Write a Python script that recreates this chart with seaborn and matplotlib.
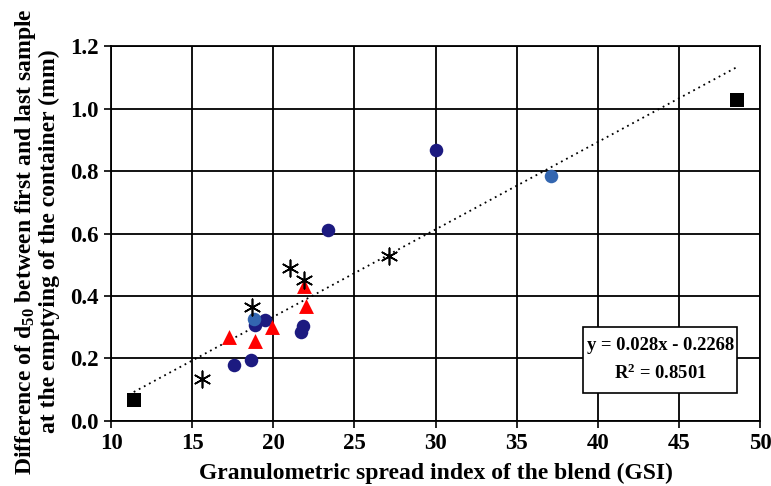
import matplotlib
matplotlib.use("Agg")
import matplotlib.pyplot as plt
from matplotlib.patches import Rectangle
import seaborn as sns
import pandas as pd
import numpy as np

# values
navy_x = [17.6, 18.6, 18.9, 19.5, 21.8, 21.7, 23.4, 30.0]
navy_y = [0.18, 0.195, 0.307, 0.323, 0.304, 0.286, 0.612, 0.868]
blue_x = [18.8, 37.1]
blue_y = [0.325, 0.784]
tri_x = [17.3, 18.9, 19.9, 21.9, 22.0]
tri_y = [0.27, 0.257, 0.302, 0.432, 0.368]
star_x = [15.6, 18.7, 21.0, 21.9, 27.1]
star_y = [0.133, 0.364, 0.49, 0.451, 0.527]
sq_x = [11.4, 48.6]
sq_y = [0.067, 1.027]

slope, intercept, r2 = 0.028, -0.2268, 0.8501

sns.set_theme(style="white")
plt.rcParams["font.family"] = ["Liberation Serif", "DejaVu Serif"]
plt.rcParams["font.weight"] = "bold"
plt.rcParams["text.color"] = "black"
plt.rcParams["axes.labelcolor"] = "black"
plt.rcParams["xtick.color"] = "black"
plt.rcParams["ytick.color"] = "black"
plt.rcParams["mathtext.fontset"] = "custom"
plt.rcParams["mathtext.rm"] = "Liberation Serif:bold"
plt.rcParams["mathtext.it"] = "Liberation Serif:bold"
plt.rcParams["mathtext.bf"] = "Liberation Serif:bold"

df = pd.concat([
    pd.DataFrame({"x": navy_x, "y": navy_y, "grp": "navy"}),
    pd.DataFrame({"x": blue_x, "y": blue_y, "grp": "blue"}),
    pd.DataFrame({"x": tri_x, "y": tri_y, "grp": "tri"}),
    pd.DataFrame({"x": star_x, "y": star_y, "grp": "star"}),
    pd.DataFrame({"x": sq_x, "y": sq_y, "grp": "sq"}),
], ignore_index=True)

f = plt.figure(figsize=(7.71, 4.86), dpi=100)
ax = f.add_axes([0.144, 0.134, 0.842, 0.771])

# trend line
xs = np.array([df["x"].min(), df["x"].max()])
ax.plot(xs, slope * xs + intercept, color="black", linestyle=(0, (1, 2.2)), lw=1.3, zorder=2)

styles = {
    "navy": dict(marker="o", color="#1c1a80", s=95),
    "blue": dict(marker="o", color="#3366b0", s=95),
    "tri": dict(marker="^", color="#ff0000", s=115),
    "sq": dict(marker="s", color="black", s=90),
}
for g, kw in styles.items():
    sns.scatterplot(data=df[df["grp"] == g], x="x", y="y", ax=ax, linewidth=0,
                    zorder=3, legend=False, **kw)
sns.scatterplot(data=df[df["grp"] == "star"], x="x", y="y", ax=ax, marker=(6, 2, 0),
                color="black", s=140, linewidth=1.2, zorder=3, legend=False)

ax.set_xlim(10, 50)
ax.set_ylim(0, 1.2)
ax.set_xticks(np.arange(10, 51, 5))
ax.set_yticks(np.arange(0, 1.21, 0.2))
ax.set_yticklabels([f"{v:.1f}" for v in np.arange(0, 1.21, 0.2)])
ax.grid(True, color="black", lw=1.3)
ax.set_axisbelow(True)
for s in ax.spines.values():
    s.set_color("black")
    s.set_linewidth(1.3)
ax.tick_params(axis="both", direction="out", length=5, width=1.2, color="black",
               labelcolor="black", labelsize=16.5, left=True, bottom=True, pad=4)
for lab in ax.get_xticklabels() + ax.get_yticklabels():
    lab.set_fontweight("bold")

ax.set_xlabel("Granulometric spread index of the blend (GSI)", fontsize=17,
              fontweight="bold", labelpad=6)
ax.set_ylabel("Difference of d$_{50}$ between first and last sample\nat the emptying of the container (mm)",
              fontsize=17, fontweight="bold", linespacing=1.06)
ax.yaxis.set_label_coords(-0.079, 0.479)

# equation box
ax.add_patch(Rectangle((0.727, 0.075), 0.238, 0.176, transform=ax.transAxes,
                       fc="white", ec="black", lw=1.2, zorder=4))
ax.text(0.846, 0.163, "y = 0.028x - 0.2268\nR$^{2}$ = 0.8501", transform=ax.transAxes,
        ha="center", va="center", fontsize=13.4, fontweight="bold", linespacing=1.6, zorder=5)

f.savefig("out.png", dpi=100)
